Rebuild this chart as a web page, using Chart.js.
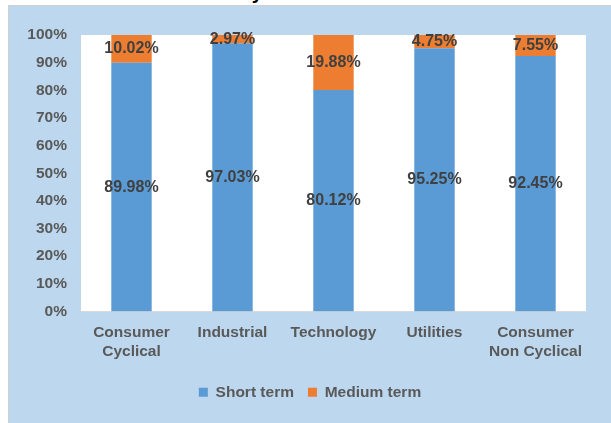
<!DOCTYPE html>
<html lang="en">
<head>
  <meta charset="UTF-8">
  <title>Industry Sector and tenure</title>
  <script src="https://cdn.jsdelivr.net/npm/chart.js"></script>
  <style>
    html, body { margin: 0; padding: 0; background: #fff; overflow: hidden; }
    body { width: 611px; height: 423px; position: relative; font-family: "Liberation Sans", Arial, sans-serif; }
    .titulo { position: absolute; left: 184px; top: -17px; font-size: 20px; line-height: 19px; font-weight: bold; color: #000; white-space: nowrap; }
    .quadro { position: absolute; left: 8px; top: 5px; width: 602px; height: 417px; background: #bdd7ee; border-left: 1px solid #d0d0d0; border-top: 1px solid #d0d0d0; }
  </style>
</head>
<body>

<div class="titulo">Industry Sector and tenure</div>
<div class="quadro">
  <canvas id="grafico" width="602" height="417"></canvas>
</div>

<script>
  // dados
  const setores = [['Consumer', 'Cyclical'], 'Industrial', 'Technology', 'Utilities', ['Consumer', 'Non Cyclical']];
  const curtoPrazo = [89.98, 97.03, 80.12, 95.25, 92.45];
  const medioPrazo = [10.02, 2.97, 19.88, 4.75, 7.55];

  const fonte = { family: '"Liberation Sans", Arial, sans-serif', weight: 'bold', size: 15.5 };

  // fundo branco só na área de plotagem
  const fundoPlot = {
    id: 'fundoPlot',
    beforeDraw(chart) {
      const { ctx, chartArea: a } = chart;
      ctx.save();
      ctx.fillStyle = '#ffffff';
      ctx.fillRect(a.left, a.top, a.right - a.left, a.bottom - a.top);
      ctx.restore();
    }
  };

  // rótulos no centro de cada segmento
  const rotulos = {
    id: 'rotulos',
    afterDatasetsDraw(chart) {
      const ctx = chart.ctx;
      ctx.save();
      ctx.font = 'bold 16px "Liberation Sans", Arial, sans-serif';
      ctx.fillStyle = '#404040';
      ctx.textAlign = 'center';
      ctx.textBaseline = 'middle';
      chart.data.datasets.forEach((ds, i) => {
        chart.getDatasetMeta(i).data.forEach((barra, j) => {
          ctx.fillText(ds.data[j].toFixed(2) + '%', barra.x, (barra.y + barra.base) / 2);
        });
      });
      ctx.restore();
    }
  };

  new Chart(document.getElementById('grafico'), {
    type: 'bar',
    data: {
      labels: setores,
      datasets: [
        { label: 'Short term', data: curtoPrazo, backgroundColor: '#5b9bd5', barPercentage: 0.4, categoryPercentage: 1 },
        { label: 'Medium term', data: medioPrazo, backgroundColor: '#ed7d31', barPercentage: 0.4, categoryPercentage: 1 }
      ]
    },
    options: {
      responsive: false,
      animation: false,
      layout: { padding: { left: 0, right: 0, top: 29, bottom: 13 } },
      plugins: {
        legend: {
          position: 'bottom',
          labels: { boxWidth: 9, boxHeight: 9, padding: 14, color: '#595959', font: fonte }
        },
        tooltip: { enabled: false }
      },
      scales: {
        x: {
          stacked: true,
          grid: { display: false, drawTicks: false },
          border: { display: true, color: '#d9d9d9', width: 1 },
          ticks: { color: '#595959', font: fonte, padding: 12, maxRotation: 0 },
          afterFit: (s) => { s.height = 59; }
        },
        y: {
          stacked: true,
          min: 0,
          max: 100,
          grid: { display: false, drawTicks: false },
          border: { display: false },
          ticks: { stepSize: 10, color: '#595959', font: fonte, padding: 14, callback: (v) => v + '%' },
          afterFit: (s) => { s.width = 72; }
        },
        // eixo vazio à direita só para reservar a margem
        margem: {
          position: 'right',
          grid: { display: false, drawTicks: false },
          border: { display: false },
          ticks: { display: false },
          afterFit: (s) => { s.width = 25; }
        }
      }
    },
    plugins: [fundoPlot, rotulos]
  });
</script>

</body>
</html>
